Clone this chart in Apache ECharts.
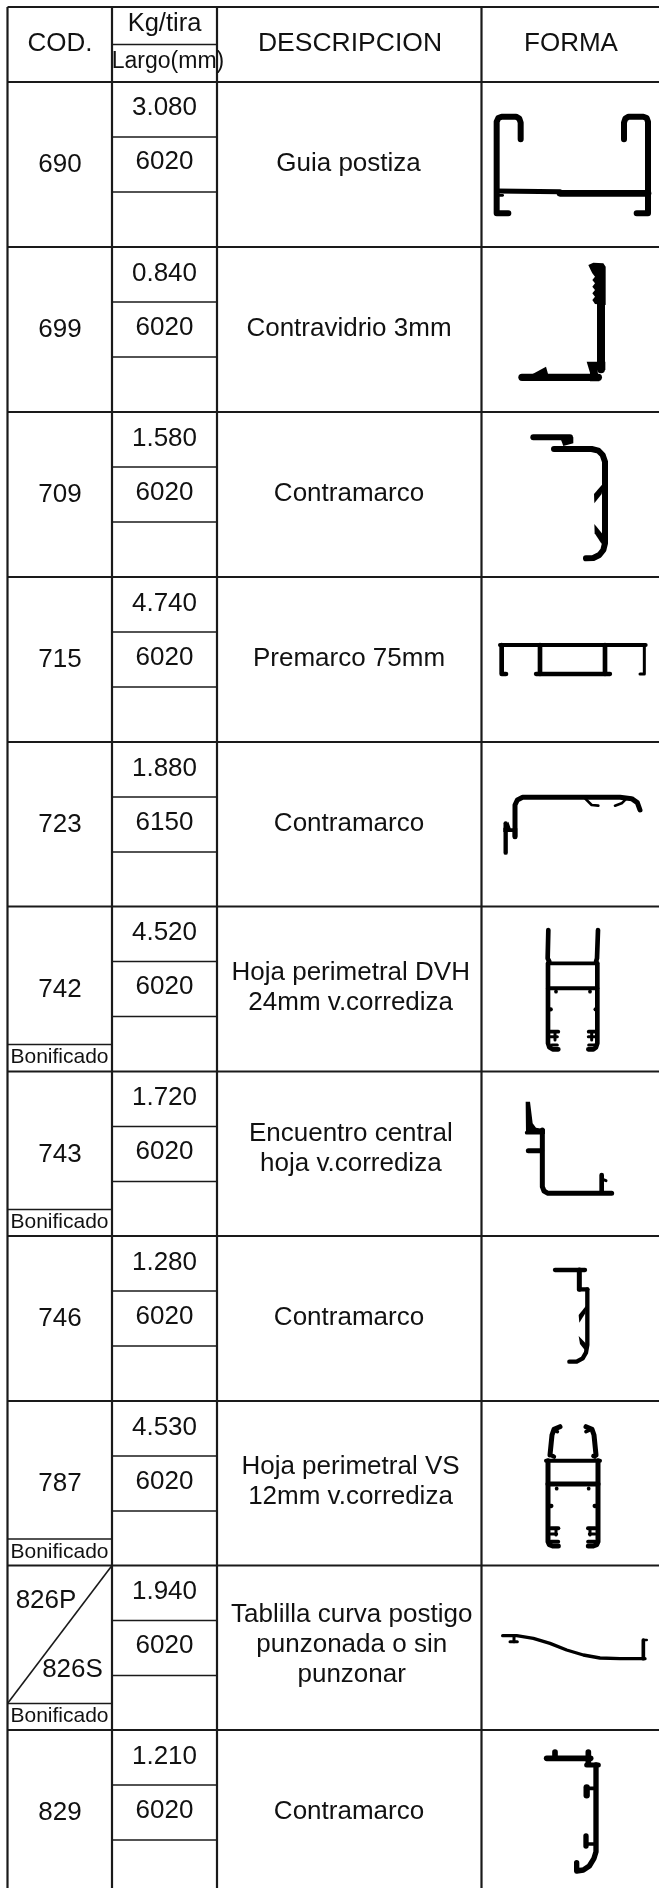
<!DOCTYPE html>
<html><head><meta charset="utf-8">
<style>html,body{margin:0;padding:0;background:#fff}#c{width:659px;height:1888px}</style>
<script src="https://cdn.jsdelivr.net/npm/echarts@6/dist/echarts.min.js"></script>
</head><body><div id="c"></div>
<script>
// ---- table contents
const codes = ['690','699','709','715','723','742','743','746','787','','829'];
const weights = ['3.080','0.840','1.580','4.740','1.880','4.520','1.720','1.280','4.530','1.940','1.210'];
const lengths = ['6020','6020','6020','6020','6150','6020','6020','6020','6020','6020','6020'];
const descriptions = ['Guia postiza','Contravidrio 3mm','Contramarco','Premarco 75mm','Contramarco',
  'Hoja perimetral DVH\n24mm v.corrediza','Encuentro central\nhoja v.corrediza','Contramarco',
  'Hoja perimetral VS\n12mm v.corrediza','Tablilla curva postigo\npunzonada o sin\npunzonar','Contramarco'];
const bonificado = [5,6,8,9];
const headers = ['COD.','DESCRIPCION','FORMA'];

// ---- table layout, in the axis units of the page
const rowEdges = [82,247,412,577,742,906.5,1071.5,1236,1401,1565.5,1730];
const colEdges = [7.5,112,217,481.5];
const descCentreY = [163.5,328.5,493.5,658.5,823.5,987.5,1149,1318,1482,1645,1812];
const descCentreX = [348.5,349,349,349,349,350.7,350.8,349,350.5,351.7,349];

// ---- profile outlines (local units: 3 per axis unit). s = stroke, f = filled outline
const profile690 = {o:[460,80],s:[
 [18,[182,178,182,128,178,116,168,110,125,110,115,114,110,125,110,400,145,400]],
 [18,[492,178,492,128,496,116,506,110,550,110,560,114,564,125,564,400,530,400]],
 [15,[110,333,300,335]],[20,[300,340,564,340]],[8,[118,346,128,346]]]};
const profile699 = {o:[460,80],s:[[24,[423,660,423,868]],[22,[186,892,415,892]]],f:[
 [385,555,400,548,430,550,437,560,437,675,405,672,397,660,405,650,397,640,405,630,397,620,405,610,397,600,405,590,397,580,392,570],
 [218,882,258,860,265,885],
 [380,845,436,845,436,870,412,870,418,904,390,904,390,878]]};
const profile709 = {o:[460,420],s:[[18,[220,52,330,52]],[18,[282,87,395,87,415,92,428,105,435,125,435,370,430,390,418,405,400,414,378,415]]],f:[
 [300,52,340,52,340,70,310,78],[430,190,402,222,403,250,425,222],[403,312,430,345,425,372,404,340]]};
const profile715 = {o:[460,420],s:[[14,[125,675,125,762,138,762]],[12,[120,675,557,675]],[9,[553,675,553,762,540,762]],
 [14,[240,675,240,762]],[14,[435,675,435,762]],[13,[228,762,450,762]]]};
const profile723 = {o:[460,420],s:[[15,[165,1250,165,1155,172,1140,188,1132,480,1132,515,1136,532,1148,540,1170]],
 [8,[375,1135,395,1155,415,1157]],[8,[465,1157,485,1150,500,1135]],[13,[137,1298,137,1210]]],f:[
 [130,1225,145,1205,152,1225,172,1225,172,1250,158,1250,158,1236,130,1236]]};
const profile742 = {o:[460,900],s:[[14,[265,90,263,175,268,185]],[14,[414,90,411,175,408,185]],
 [14,[264,190,264,430,268,442,278,448,295,448]],[14,[412,190,412,430,408,442,400,448,385,448]],
 [11,[264,190,412,190]],[12,[264,265,412,265]],[11,[288,274,288,275]],[11,[390,274,390,275]],
 [13,[270,328,272,328]],[13,[407,328,409,328]],[11,[270,395,295,395]],[11,[386,395,408,395]],
 [9,[285,395,285,420]],[9,[395,395,395,420]],[9,[275,435,292,435]],[9,[386,435,405,435]],[9,[270,410,292,410]],[9,[385,410,408,410]]]};
const profile743 = {o:[460,900],s:[[15,[247,690,247,860,252,873,264,880,455,880]],[15,[205,752,245,752]],[11,[200,698,245,698]],[14,[425,875,425,825]],[9,[428,838,438,842]]],f:[
 [197,605,210,605,218,670,228,683,255,688,255,702,198,702]]};
const profile746 = {o:[460,900],s:[[13,[285,1110,375,1110]],[15,[358,1110,358,1168]],[13,[358,1168,382,1168]],
 [13,[382,1168,382,1335,378,1358,368,1375,350,1385,328,1385]]],f:[[380,1215,356,1245,358,1268,376,1240],[356,1308,382,1335,376,1352,360,1332]]};
const profile787 = {o:[460,1390],s:[[15,[270,195,276,135,282,118,300,110]],[15,[408,195,402,135,396,118,378,110]],
 [11,[282,120,292,125]],[11,[378,125,388,120]],[15,[264,212,264,455,268,464,278,468,295,468]],[15,[414,212,414,455,410,464,400,468,385,468]],
 [12,[258,212,420,212]],[15,[264,282,414,282]],[13,[278,198,282,200]],[13,[400,198,404,200]],[11,[290,295,290,296]],[11,[386,295,386,296]],
 [13,[272,348,274,348]],[13,[404,348,406,348]],[12,[272,415,295,415]],[12,[384,415,406,415]],[9,[288,415,288,435]],[9,[390,415,390,435]],
 [11,[272,455,295,455]],[11,[384,455,406,455]],[9,[272,432,290,432]],[9,[388,432,406,432]]]};
const profile826 = {o:[460,1390],s:[[10,[128,737,170,737,220,745,270,760,320,780,370,795,420,804,480,806,555,806]],
 [9,[162,740,162,755]],[9,[150,755,172,755]],[11,[550,750,550,806]],[8,[550,750,560,750]]]};
const profile829 = {o:[460,1390],s:[[17,[260,1105,392,1105]],[17,[285,1086,285,1100]],[17,[385,1086,385,1120]],[15,[380,1125,415,1125]],
 [16,[408,1125,408,1385,402,1405,388,1428,370,1440,350,1443,350,1418]],[19,[380,1192,380,1216]],[11,[385,1195,405,1195]],
 [16,[378,1338,378,1368]],[11,[380,1362,405,1362]]]};
const profiles = [profile690,profile699,profile709,profile715,profile723,profile742,profile743,profile746,profile787,profile826,profile829];

// ---- build marks
const INK = '#111';
const rules = [];
const add = (x1,y1,x2,y2,w) => rules.push([x1,y1,x2,y2,w]);
const PAGE_W = 659, PAGE_H = 1888;
add(colEdges[0],7,PAGE_W,7,2.2);
rowEdges.forEach(y => add(colEdges[0],y,PAGE_W,y,2.2));
colEdges.forEach(x => add(x,7,x,PAGE_H,2.2));
add(colEdges[1],44.5,colEdges[2],44.5,1.6);
rowEdges.forEach(y => { add(colEdges[1],y+55,colEdges[2],y+55,1.6); add(colEdges[1],y+110,colEdges[2],y+110,1.6); });
bonificado.forEach(i => add(colEdges[0],rowEdges[i]+138,colEdges[1],rowEdges[i]+138,1.6));
add(colEdges[1],rowEdges[9],colEdges[0],rowEdges[9]+138,1.6);

const texts = [];
const put = (t,x,y,size) => texts.push([t,x,y,size]);
put(headers[0],60,44,26); put(headers[1],350,44,26.5); put(headers[2],571,44,26);
put('Kg/tira',164.5,24,25.5); put('Largo(mm)',168,62,23);
rowEdges.forEach((y,i) => {
  if (codes[i]) put(codes[i],60,y+83,26);
  put(weights[i],164.5,y+(i===0?25.5:26.5),26);
  put(lengths[i],164.5,y+(i===0?79.5:80.5),26);
  put(descriptions[i],descCentreX[i],descCentreY[i],26);
});
bonificado.forEach(i => put('Bonificado',59.5,rowEdges[i]+151,21));
put('826P',46,1601,26); put('826S',72.5,1670,26);

const strokes = [], fills = [];
profiles.forEach(p => {
  const conv = a => { const out=[]; for (let i=0;i<a.length;i+=2) out.push([p.o[0]+a[i]/3,p.o[1]+a[i+1]/3]); return out; };
  (p.s||[]).forEach(([w,a]) => strokes.push([w/3,conv(a)]));
  (p.f||[]).forEach(a => fills.push(conv(a)));
});

const chart = echarts.init(document.getElementById('c'),null,{renderer:'canvas'});
chart.setOption({
  animation:false, backgroundColor:'#fff',
  grid:{left:0,right:0,top:0,bottom:0},
  xAxis:{type:'value',min:0,max:PAGE_W,show:false},
  yAxis:{type:'value',min:0,max:PAGE_H,inverse:true,show:false},
  series:[
    {type:'custom',silent:true,clip:false,data:rules.map((r,i)=>[i]),renderItem:(p,api)=>{
      const r=rules[api.value(0)],a=api.coord([r[0],r[1]]),b=api.coord([r[2],r[3]]);
      return {type:'line',shape:{x1:a[0],y1:a[1],x2:b[0],y2:b[1]},style:{stroke:'#1a1a1a',lineWidth:r[4]}};
    }},
    {type:'custom',silent:true,clip:false,data:strokes.map((r,i)=>[i]),renderItem:(p,api)=>{
      const r=strokes[api.value(0)];
      return {type:'polyline',shape:{points:r[1].map(q=>api.coord(q))},
        style:{stroke:'#000',fill:null,lineWidth:r[0],lineCap:'round',lineJoin:'round'}};
    }},
    {type:'custom',silent:true,clip:false,data:fills.map((r,i)=>[i]),renderItem:(p,api)=>{
      return {type:'polygon',shape:{points:fills[api.value(0)].map(q=>api.coord(q))},style:{fill:'#000'}};
    }},
    {type:'custom',silent:true,clip:false,data:texts.map((r,i)=>[i]),renderItem:(p,api)=>{
      const r=texts[api.value(0)],a=api.coord([r[1],r[2]]);
      return {type:'text',x:a[0],y:a[1],style:{text:r[0],fontFamily:'"Liberation Sans",Arial,sans-serif',fontSize:r[3],
        lineHeight:30,fill:INK,align:'center',verticalAlign:'middle'}};
    }}
  ]
});
</script></body></html>
